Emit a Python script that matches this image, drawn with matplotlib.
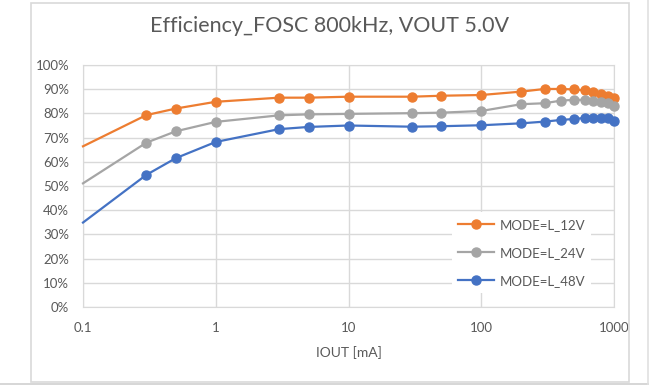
import matplotlib.pyplot as plt
import numpy as np
from matplotlib.patches import Rectangle
from matplotlib.lines import Line2D

# dados
iout = [0.1, 0.3, 0.5, 1, 3, 5, 10, 30, 50, 100, 200, 300, 400, 500, 600, 700, 800, 900, 1000]
ef_12v = [66.4, 79.3, 82.0, 84.8, 86.5, 86.5, 86.9, 86.9, 87.3, 87.6, 89.0, 90.1, 90.1, 89.9, 89.5, 88.8, 88.0, 87.2, 86.2]
ef_24v = [51.1, 67.9, 72.6, 76.5, 79.2, 79.6, 79.8, 80.1, 80.3, 81.0, 83.8, 84.2, 85.3, 85.6, 85.6, 85.1, 84.8, 84.2, 83.2]
ef_48v = [34.9, 54.6, 61.5, 68.2, 73.5, 74.4, 75.0, 74.5, 74.7, 75.1, 75.9, 76.6, 77.3, 77.7, 78.1, 78.0, 78.0, 77.9, 77.0]
nomes = ['MODE=L_12V', 'MODE=L_24V', 'MODE=L_48V']
cores = ['#ED7D31', '#A5A5A5', '#4472C4']
x_ticks = [0.1, 1, 10, 100, 1000]
x_labels = ['0.1', '1', '10', '100', '1000']

plt.rcParams['font.family'] = ['Lato', 'DejaVu Sans']
cinza = '#595959'

fig = plt.figure(figsize=(6.49, 3.85), dpi=100)
W, H = 649, 385

# moldura do gráfico (estilo Excel)
fig.patches.append(Rectangle((31 / W, 1 - 382 / H), (629 - 31) / W, (382 - 3) / H,
                             transform=fig.transFigure, fill=False, ec='#d9d9d9', lw=1.2))
fig.lines.append(Line2D([0, 1], [1 - 383.5 / H] * 2, transform=fig.transFigure, color='#d0d0d0', lw=1.2))
fig.lines.append(Line2D([647.5 / W] * 2, [0, 1], transform=fig.transFigure, color='#e0e0e0', lw=1.2))

ax = fig.add_axes([83 / W, 1 - 307 / H, (614 - 83) / W, (307 - 65) / H])
for y, nome, cor in zip([ef_12v, ef_24v, ef_48v], nomes, cores):
    ax.plot(iout, y, color=cor, lw=1.6, marker='o', markersize=6.5, markevery=list(range(1, len(iout))),
            label=nome, clip_on=False, zorder=3)

ax.set_xscale('log')
ax.set_xlim(0.1, 1000)
ax.set_ylim(0, 100)
ax.set_xticks(x_ticks)
ax.set_xticklabels(x_labels)
ax.minorticks_off()
ax.set_yticks(np.arange(0, 101, 10))
ax.set_yticklabels([f'{v}%' for v in range(0, 101, 10)])
ax.tick_params(length=0, labelsize=9.5, colors=cinza)
ax.tick_params(axis='x', pad=10.5)
ax.tick_params(axis='y', pad=10)
ax.grid(color='#d9d9d9', lw=1)
for s in ax.spines.values():
    s.set_color('#d9d9d9')
ax.set_xlabel('IOUT [mA]', fontsize=10, color=cinza, labelpad=9)

fig.text(330 / W, 1 - 26 / H, 'Efficiency_FOSC 800kHz, VOUT 5.0V', ha='center', va='center',
         fontsize=15.5, color=cinza)

leg = ax.legend(loc='lower right', bbox_to_anchor=(0.97, 0.03), frameon=True, fontsize=9.5,
                handlelength=2.7, handletextpad=0.4, labelspacing=1.2, borderpad=0.5)
leg.get_frame().set_edgecolor('none')
leg.get_frame().set_facecolor('white')
leg.get_frame().set_alpha(1)
for t in leg.get_texts():
    t.set_color(cinza)

plt.savefig('out.png', dpi=100)
